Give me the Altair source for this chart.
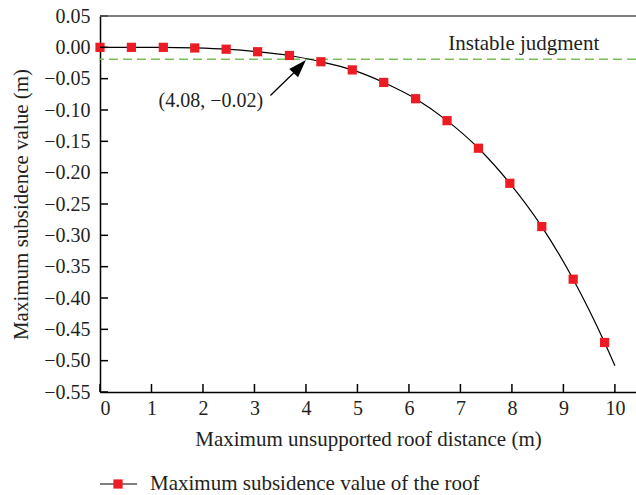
import altair as alt
import pandas as pd

# ---- data ----
x_vals = [0.0, 0.61, 1.23, 1.84, 2.45, 3.06, 3.68, 4.29, 4.90, 5.51, 6.13, 6.74, 7.35, 7.96, 8.58, 9.19, 9.80]
y_vals = [0.0, 0.0, 0.0, -0.001, -0.003, -0.007, -0.013, -0.023, -0.036, -0.056, -0.082, -0.117, -0.161, -0.217, -0.286, -0.370, -0.471]
curve_end_x = [10.0]
curve_end_y = [-0.508]
x_ticks = [0, 1, 2, 3, 4, 5, 6, 7, 8, 9, 10]
y_ticks = [0.05, 0.0, -0.05, -0.10, -0.15, -0.20, -0.25, -0.30, -0.35, -0.40, -0.45, -0.50, -0.55]
threshold = [-0.019]
threshold_label = ["Instable judgment"]
point_label = ["(4.08, \u22120.02)"]
legend_label = ["Maximum subsidence value of the roof"]
x_title = "Maximum unsupported roof distance (m)"
y_title = "Maximum subsidence value (m)"

# ---- layout / style ----
FONT = "Liberation Serif"
FS = 20
TFS = 21
TXT = "#231f20"
RED = "#ed1c24"
GREEN = "#77c05a"
W, H = 536, 376
xs = alt.Scale(domain=[0, 10.41], nice=False, zero=False)
ys = alt.Scale(domain=[-0.55, 0.05], nice=False, zero=False)

x_axis = alt.Axis(values=x_ticks, format="d", ticks=False, grid=False,
                  domainColor="black", domainWidth=1.5, labelPadding=6,
                  titlePadding=10, title=x_title)
y_axis = alt.Axis(values=y_ticks, format=".2f", ticks=False, grid=False,
                  domainColor="black", domainWidth=1.5, labelPadding=10,
                  titlePadding=12, title=y_title)

X = lambda: alt.X("x:Q", scale=xs, axis=x_axis)
Y = lambda: alt.Y("y:Q", scale=ys, axis=y_axis)

pts = pd.DataFrame({"x": x_vals, "y": y_vals})
curve = pd.DataFrame({"x": x_vals + curve_end_x, "y": y_vals + curve_end_y})

line = alt.Chart(curve).mark_line(color="black", strokeWidth=1.2, interpolate="monotone").encode(x=X(), y=Y())
points = alt.Chart(pts).mark_square(color=RED, size=85, opacity=1).encode(x=X(), y=Y())

thr = alt.Chart(pd.DataFrame({"y": threshold})).mark_rule(
    color=GREEN, strokeDash=[9, 5], strokeWidth=1.5).encode(y=Y())

thr_text = alt.Chart(pd.DataFrame({"x": [8.23], "y": [0.006], "t": threshold_label})).mark_text(
    font=FONT, fontSize=TFS, color=TXT, align="center", baseline="middle").encode(x=X(), y=Y(), text="t:N")

pt_text = alt.Chart(pd.DataFrame({"x": [3.17], "y": [-0.085], "t": point_label})).mark_text(
    font=FONT, fontSize=FS, color=TXT, align="right", baseline="middle").encode(x=X(), y=Y(), text="t:N")

arrow_line = alt.Chart(pd.DataFrame({"x": [3.31, 3.81], "y": [-0.077, -0.037]})).mark_line(
    color="black", strokeWidth=1.3).encode(x=X(), y=Y())
arrow_head = alt.Chart(pd.DataFrame({"x": [3.88], "y": [-0.0306]})).mark_point(
    shape="M0,-1L0.67,1L-0.67,1Z", filled=True, color="black", opacity=1, angle=43, size=324,
    strokeWidth=0).encode(x=X(), y=Y())

xt = alt.Chart(pd.DataFrame({"x": x_ticks})).mark_rule(color="black", strokeWidth=1.5).encode(
    x=X(), y=alt.value(H), y2=alt.value(H - 8))
yt = alt.Chart(pd.DataFrame({"y": y_ticks})).mark_rule(color="black", strokeWidth=1.5).encode(
    y=Y(), x=alt.value(0), x2=alt.value(8))

top = alt.Chart(pd.DataFrame({"a": [0]})).mark_rule(color="#555555", strokeWidth=1.5).encode(
    y=alt.value(0), x=alt.value(0), x2=alt.value(W))

lg_line = alt.Chart(pd.DataFrame({"a": [0]})).mark_rule(color="black", strokeWidth=1.2).encode(
    x=alt.value(0), x2=alt.value(37), y=alt.value(468))
lg_pt = alt.Chart(pd.DataFrame({"a": [0]})).mark_square(color=RED, size=85, opacity=1).encode(
    x=alt.value(18), y=alt.value(468))
lg_text = alt.Chart(pd.DataFrame({"t": legend_label})).mark_text(
    font=FONT, fontSize=TFS, color=TXT, align="left", baseline="middle").encode(
    x=alt.value(50), y=alt.value(468), text="t:N")

chart = alt.layer(
    thr, line, points, arrow_line, arrow_head, thr_text, pt_text, xt, yt, top, lg_line, lg_pt, lg_text
).properties(
    width=W, height=H,
    padding={"left": 100, "top": 16, "right": 0, "bottom": 103},
    autosize=alt.AutoSizeParams(type="none"),
).configure_view(stroke=None).configure_axis(
    labelFont=FONT, titleFont=FONT, labelFontSize=FS, titleFontSize=TFS,
    labelColor=TXT, titleColor=TXT, titleFontWeight="normal",
)

chart.save("out.html", embed_options={"renderer": "svg", "actions": False})
